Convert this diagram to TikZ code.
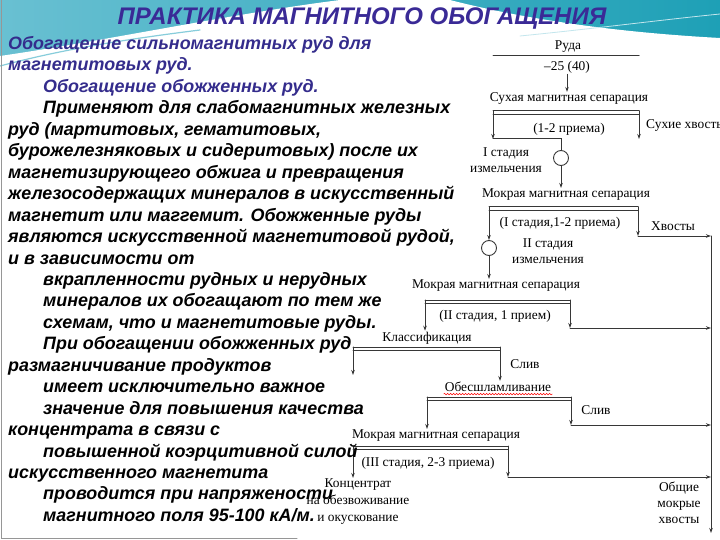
\documentclass[tikz,border=0pt]{standalone}
\usepackage{fontspec}
\setmainfont{Liberation Serif}
\newfontfamily\slidefont{Liberation Sans}
\usetikzlibrary{positioning,arrows.meta,decorations.pathmorphing}
\definecolor{titleblue}{RGB}{58,42,150}
\definecolor{textblue}{RGB}{52,44,140}
\definecolor{tealdark}{RGB}{30,160,182}
\definecolor{teallight}{RGB}{105,192,210}
\definecolor{linegray}{RGB}{55,55,55}
\definecolor{framegray}{RGB}{150,150,150}
\tikzset{
  lbl/.style={inner sep=1pt, font=\fontsize{13.4}{16}\selectfont, align=center},
  flow/.style={draw=linegray, line width=1pt},
  mill/.style={circle, draw=linegray, line width=0.9pt, minimum size=15pt, inner sep=0pt},
  slide/.style={anchor=base west, inner sep=0pt, font=\slidefont\bfseries\itshape\fontsize{17.9}{20}\selectfont},
}
% double bar of a separation step: name, left x, right x, y
\newcommand{\sepbar}[4]{%
  \coordinate (#1-l) at (#2,#4);
  \coordinate (#1-r) at (#3,#4);
  \draw[flow] (#1-l) -- (#1-r);
  \draw[flow] ([yshift=-3.5pt]#1-l) -- ([yshift=-3.5pt]#1-r);
}
\begin{document}
\begin{tikzpicture}[x=1pt,y=-1pt,>={Stealth[length=5pt,width=3.5pt]},line cap=round]
\clip (0,0) rectangle (720,540);
% background of the slide
\shade[left color=teallight,right color=tealdark] (0,0) rectangle (720,60);
\fill[white] (0,60) -- (0,56) .. controls (110,40) and (230,14) .. (340,0)
  -- (450,0) .. controls (520,18) and (610,32) .. (720,38) -- (720,60) -- cycle;
\draw[teallight!80,line width=1.2pt] (0,66) .. controls (60,50) and (120,40) .. (200,30);
\draw[white!60!teallight,line width=0.8pt] (520,36) .. controls (600,28) and (660,20) .. (720,14);
\draw[framegray,line width=1pt] (1,0) -- (1,538) -- (297,538);

% title
\node[font=\slidefont\bfseries\itshape\fontsize{24}{26}\selectfont, text=titleblue] (title) at (362,19)
  {ПРАКТИКА МАГНИТНОГО ОБОГАЩЕНИЯ};

% flowsheet
\node[lbl] (ruda) at (568,47) {Руда};
\node[lbl] (grade) at (567,67) {–25 (40)};
\draw[flow] (493,56) coordinate (ul) -- (639,56) coordinate (ur);
\node[lbl] (dry) at (569,99) {Сухая магнитная сепарация};
\draw[flow,->] (grade) -- (grade |- dry.north);
\sepbar{b1}{493}{639}{111}
\node[lbl] (dryq) at (569,129) {(1-2 приема)};
\node[lbl,anchor=west] (drytail) at (645,126) {Сухие хвосты};
\coordinate (a1) at (493,139);
\draw[flow,->] (b1-l) -- (a1);
\draw[flow,->] (b1-r) -- (639,139);
\node[mill] (mill1) at (561,158) {};
\draw[flow] (a1) -| (mill1);
\node[lbl] (st1) at (506,160) {I стадия\\измельчения};
\node[lbl] (wet1) at (566,195) {Мокрая магнитная сепарация};
\draw[flow,->] (mill1) -- (mill1 |- wet1.north);
\sepbar{b2}{489}{638}{207}
\node[lbl] (wet1q) at (560,223) {(I стадия,1-2 приема)};
\node[lbl] (tail1) at (673,226) {Хвосты};
\node[mill] (mill2) at (489,248) {};
\draw[flow,->] (b2-l) -- (mill2);
\node[lbl] (st2) at (548,251) {II стадия\\измельчения};
\node[lbl] (wet2) at (496,286) {Мокрая магнитная сепарация};
\draw[flow,->] (mill2) -- (mill2 |- wet2.north);
\coordinate (t1) at (638,236);
\coordinate (trunk-top) at (711,236);
\coordinate (trunk-bot) at (711,533);
\draw[flow,->] (b2-r) -- (t1);
\draw[flow,->] (t1) -- (trunk-top);
\draw[flow,->] (trunk-top) -- (trunk-bot);

\sepbar{b3}{425}{570}{300}
\node[lbl] (wet2q) at (495,316) {(II стадия, 1 прием)};
\node[lbl] (cls) at (427,338) {Классификация};
\draw[flow,->] (b3-l) -- (cls.north -| b3-l);
\coordinate (t2) at (570,328);
\draw[flow,->] (b3-r) -- (t2);
\draw[flow,->] (t2) -- (t2 -| trunk-top);

\sepbar{b4}{353}{500}{347}
\node[lbl] (slime1) at (525,364) {Слив};
\node[lbl] (desl) at (498,387) {Обесшламливание};
\draw[red,line width=0.5pt,decorate,decoration={snake,amplitude=0.8pt,segment length=3pt}]
  ([yshift=-1pt]desl.south west) -- ([yshift=-1pt]desl.south east);
\draw[flow,->] (b4-l) -- (353,375);
\draw[flow,->] (b4-r) -- (desl.north -| b4-r);

\sepbar{b5}{427}{571}{397}
\node[lbl] (slime2) at (596,410) {Слив};
\node[lbl] (wet3) at (436,436) {Мокрая магнитная сепарация};
\draw[flow,->] (b5-l) -- (wet3.north -| b5-l);
\coordinate (t3) at (571,425);
\draw[flow,->] (b5-r) -- (t3);
\draw[flow,->] (t3) -- (t3 -| trunk-top);

\sepbar{b6}{353}{508}{446}
\node[lbl] (wet3q) at (428,463) {(III стадия, 2-3 приема)};
\node[lbl,font=\fontsize{13.4}{17}\selectfont] (conc) at (358,502) {Концентрат\\на обезвоживание\\и окускование};
\draw[flow,->] (b6-l) -- (conc.north -| b6-l);
\coordinate (t4) at (508,477);
\draw[flow,->] (b6-r) -- (t4);
\draw[flow,->] (t4) -- (t4 -| trunk-top);
\node[lbl] (wettail) at (679,503) {Общие\\мокрые\\хвосты};

% text of the slide
\foreach \ind/\col/\txt [count=\i] in {
  0/textblue/{Обогащение сильномагнитных руд для},
  0/textblue/{магнетитовых руд.},
  35/textblue/{Обогащение обожженных руд.},
  35/black/{Применяют для слабомагнитных железных},
  0/black/{руд (мартитовых, гематитовых,},
  0/black/{бурожелезняковых и сидеритовых) после их},
  0/black/{магнетизирующего обжига и превращения},
  0/black/{железосодержащих минералов в искусственный},
  0/black/{магнетит или маггемит. Обожженные руды},
  0/black/{являются искусственной магнетитовой рудой,},
  0/black/{и в зависимости от},
  35/black/{вкрапленности рудных и нерудных},
  35/black/{минералов их обогащают по тем же},
  35/black/{схемам, что и магнетитовые руды.},
  35/black/{При обогащении обожженных руд},
  0/black/{размагничивание продуктов},
  35/black/{имеет исключительно важное},
  35/black/{значение для повышения качества},
  0/black/{концентрата в связи с},
  35/black/{повышенной коэрцитивной силой},
  0/black/{искусственного магнетита},
  35/black/{проводится при напряжености},
  35/black/{магнитного поля 95-100 кА/м.}}
  \node[slide,text=\col] (line\i) at (8+\ind,{49.5+21.45*(\i-1)}) {\txt};
\end{tikzpicture}
\end{document}
